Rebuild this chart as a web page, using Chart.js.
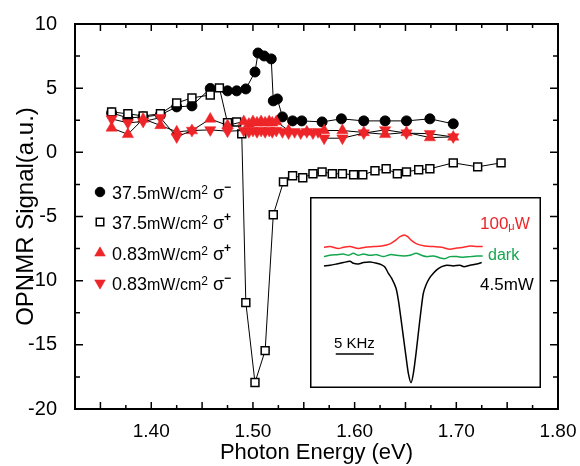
<!DOCTYPE html>
<html>
<head>
<meta charset="utf-8">
<script src="https://cdn.jsdelivr.net/npm/chart.js@4/dist/chart.umd.min.js"></script>
<style>
  html, body { margin: 0; padding: 0; background: #fff; }
  #wrap { position: relative; width: 580px; height: 466px; }
  #main { position: absolute; left: 0; top: 0; }
  #inset { position: absolute; left: 310px; top: 197px; }
</style>
</head>
<body>
<div id="wrap">
  <canvas id="main" width="580" height="466"></canvas>
  <canvas id="inset" width="231" height="191"></canvas>
</div>
<script>
// ---- data ----
// 37.5 mW/cm2 sigma-  (filled circles)
const circE = [1.361,1.377,1.392,1.409,1.425,1.440,1.458,1.475,1.484,1.493,1.502,1.505,1.511,1.518,1.520,1.524,1.529,1.539,1.548,1.568,1.587,1.609,1.630,1.651,1.674,1.697];
const circS = [3.07,2.68,2.76,2.92,3.54,3.62,4.98,4.79,4.79,4.94,6.26,7.74,7.51,7.28,4.01,4.16,2.76,2.45,2.45,2.37,2.61,2.45,2.45,2.45,2.61,2.22];
// 37.5 mW/cm2 sigma+  (open squares)
const sqE = [1.361,1.377,1.392,1.409,1.425,1.440,1.458,1.467,1.475,1.484,1.489,1.493,1.502,1.512,1.520,1.530,1.539,1.549,1.559,1.568,1.578,1.588,1.599,1.608,1.620,1.631,1.642,1.651,1.663,1.674,1.697,1.721,1.744];
const sqS = [3.15,3.00,2.84,3.00,3.85,4.24,4.47,5.02,2.30,2.37,1.44,-11.71,-17.94,-15.45,-4.86,-2.30,-1.83,-1.98,-1.67,-1.52,-1.67,-1.67,-1.75,-1.75,-1.44,-1.28,-1.67,-1.52,-1.36,-1.28,-0.82,-1.13,-0.82];
// 0.83 mW/cm2 sigma+  (red up triangles)
const upE = [1.361,1.377,1.392,1.409,1.425,1.440,1.458,1.475,1.491,1.496,1.500,1.504,1.508,1.512,1.516,1.519,1.523,1.535,1.553,1.570,1.588,1.609,1.630,1.651,1.674,1.697];
const upS = [1.9,1.4,2.6,2.1,1.6,1.7,2.6,2.1,2.4,2.2,2.4,2.3,2.4,2.3,2.4,2.3,2.4,1.7,1.6,1.7,1.7,1.55,1.4,1.55,1.15,1.2];
// 0.83 mW/cm2 sigma-  (red down triangles)
const dnE = [1.361,1.377,1.392,1.409,1.425,1.440,1.458,1.475,1.491,1.496,1.500,1.504,1.508,1.512,1.516,1.519,1.523,1.529,1.535,1.541,1.547,1.553,1.559,1.564,1.570,1.588,1.609,1.630,1.651,1.674,1.697];
const dnS = [2.6,2.3,2.4,2.7,1.2,1.7,1.75,1.65,1.7,1.6,1.7,1.6,1.7,1.6,1.7,1.6,1.7,1.6,1.5,1.6,1.5,1.6,1.5,1.6,1.1,1.1,1.5,1.75,1.5,1.45,1.2];

// axis ticks
const xLabelTicks = [1.40,1.50,1.60,1.70,1.80];
const xMajorTicks = [1.35,1.40,1.45,1.50,1.55,1.60,1.65,1.70,1.75];
const xMinorTicks = [1.375,1.425,1.475,1.525,1.575,1.625,1.675,1.725,1.775];
const yLabelTicks = [-20,-15,-10,-5,0,5,10];
const yMinorTicks = [-17.5,-12.5,-7.5,-2.5,2.5,7.5];

// inset spectra (kHz offset, signal a.u.)
const redK = [-11.45,-10.66,-9.56,-8.90,-8.03,-6.93,-6.05,-4.96,-3.86,-2.76,-1.97,-1.45,-0.88,-0.44,0.09,0.75,1.84,2.94,4.04,5.13,6.01,6.89,7.76,8.64,9.43];
const redV = [1.160,1.166,1.149,1.160,1.166,1.149,1.160,1.166,1.171,1.189,1.223,1.251,1.266,1.251,1.217,1.189,1.171,1.166,1.160,1.143,1.154,1.160,1.171,1.166,1.166];
const greenK = [-11.45,-10.66,-9.78,-8.90,-8.25,-7.59,-6.93,-6.27,-5.39,-4.52,-3.64,-2.76,-1.89,-1.01,-0.13,0.66,1.40,2.06,2.94,3.82,4.47,5.13,6.01,6.89,7.76,8.64,9.43];
const greenV = [1.080,1.091,1.097,1.103,1.091,1.109,1.091,1.103,1.091,1.097,1.080,1.097,1.091,1.086,1.091,1.109,1.091,1.080,1.086,1.069,1.063,1.080,1.080,1.074,1.080,1.086,1.086];
const blackK = [-11.45,-10.66,-9.78,-8.90,-8.03,-7.59,-6.93,-6.27,-5.39,-4.52,-3.86,-3.42,-2.98,-2.54,-1.97,-1.67,-1.36,-1.01,-0.66,-0.35,0,0.31,0.66,1.01,1.32,1.62,1.97,2.41,2.94,3.46,4.04,4.69,5.57,6.45,6.97,7.76,8.64,9.30];
const blackV = [1.000,1.006,1.017,1.029,1.040,1.023,1.017,1.029,1.034,1.023,1.009,0.989,0.937,0.894,0.809,0.709,0.566,0.394,0.223,0.080,0,0.080,0.251,0.451,0.623,0.766,0.837,0.894,0.937,0.971,0.994,1.006,1.000,1.006,0.994,1.006,1.017,1.029];
const barK = [-9.9,-4.9];
const barV = [0.246,0.246];

const FONT = '"Liberation Sans", Arial, sans-serif';
const RED = '#ee2528';
const pts = (xs, ys) => xs.map((v, i) => ({x: v, y: ys[i]}));

const series = [
  { label: '37.5 sigma-', data: pts(circE, circS), pointStyle: 'circle', pointRadius: 5, pointBackgroundColor: '#000', pointBorderColor: '#000', pointBorderWidth: 1, order: 3 },
  { label: '37.5 sigma+', data: pts(sqE, sqS), pointStyle: 'rect', pointRadius: 5.6, pointBackgroundColor: '#fff', pointBorderColor: '#000', pointBorderWidth: 1.5, order: 2 },
  { label: '0.83 sigma+', data: pts(upE, upS), pointStyle: 'triangle', pointRadius: 6.5, pointBackgroundColor: RED, pointBorderColor: RED, pointBorderWidth: 0.5, order: 1 },
  { label: '0.83 sigma-', data: pts(dnE, dnS), pointStyle: 'triangle', pointRotation: 180, pointRadius: 6.5, pointBackgroundColor: RED, pointBorderColor: RED, pointBorderWidth: 0.5, order: 0 }
].map(d => Object.assign({ showLine: true, borderColor: '#000', borderWidth: 1, tension: 0 }, d));

// frame with inward ticks on all four sides
const frameTicks = {
  id: 'frameTicks',
  afterDatasetsDraw(chart) {
    const { ctx, chartArea: a, scales: { x, y } } = chart;
    ctx.save();
    ctx.strokeStyle = '#000';
    ctx.lineWidth = 1.5;
    ctx.beginPath();
    const vt = (v, len) => { const p = x.getPixelForValue(v); ctx.moveTo(p, a.bottom); ctx.lineTo(p, a.bottom - len); ctx.moveTo(p, a.top); ctx.lineTo(p, a.top + len); };
    const ht = (v, len) => { const p = y.getPixelForValue(v); ctx.moveTo(a.left, p); ctx.lineTo(a.left + len, p); ctx.moveTo(a.right, p); ctx.lineTo(a.right - len, p); };
    xMajorTicks.forEach(v => vt(v, 7));
    xMinorTicks.forEach(v => vt(v, 4));
    yLabelTicks.forEach(v => ht(v, 8));
    yMinorTicks.forEach(v => ht(v, 5));
    ctx.stroke();
    ctx.lineWidth = 2;
    ctx.strokeRect(a.left, a.top, a.right - a.left, a.bottom - a.top);
    ctx.restore();
  }
};

// legend with mixed font sizes (cm^2, sigma^+/-)
const legendRows = [
  { ds: 0, num: '37.5', sign: '\u2212', y: 192 },
  { ds: 1, num: '37.5', sign: '+', y: 222 },
  { ds: 2, num: '0.83', sign: '+', y: 253 },
  { ds: 3, num: '0.83', sign: '\u2212', y: 283 }
];
const customLegend = {
  id: 'customLegend',
  afterDraw(chart) {
    const ctx = chart.ctx;
    ctx.save();
    legendRows.forEach(r => {
      const d = chart.data.datasets[r.ds];
      ctx.fillStyle = d.pointBackgroundColor;
      ctx.strokeStyle = d.pointBorderColor;
      ctx.lineWidth = d.pointBorderWidth;
      Chart.helpers.drawPoint(ctx, {
        pointStyle: d.pointStyle, radius: d.pointRadius * 0.95,
        rotation: d.pointRotation || 0, borderWidth: d.pointBorderWidth
      }, 100, r.y);
      ctx.fillStyle = '#000';
      ctx.textBaseline = 'alphabetic';
      const base = r.y + 6.5;
      let x = 112;
      const put = (txt, size, dy, weight) => {
        ctx.font = (weight || '') + ' ' + size + 'px ' + FONT;
        ctx.fillText(txt, x, base + dy);
        x += ctx.measureText(txt).width;
      };
      put(r.num, 18, 0);
      put('mW/cm', 16, 0);
      put('2', 12, -5);
      x += 5;
      put('\u03c3', 18, 0);
      put(r.sign, 12, -8, 'bold');
    });
    ctx.restore();
  }
};

new Chart(document.getElementById('main'), {
  type: 'scatter',
  data: { datasets: series },
  options: {
    responsive: false,
    animation: false,
    layout: { padding: { top: 24, right: 22, left: 0, bottom: 0 } },
    plugins: { legend: { display: false }, tooltip: { enabled: false } },
    scales: {
      x: {
        type: 'linear', min: 1.325, max: 1.80,
        afterBuildTicks: s => { s.ticks = xLabelTicks.map(v => ({ value: v })); },
        afterFit: s => { s.height = 57; },
        grid: { display: false }, border: { display: false },
        ticks: { color: '#000', font: { family: FONT, size: 19 }, padding: 3, maxRotation: 0,
                 callback: v => v.toFixed(2) },
        title: { display: true, text: 'Photon Energy (eV)', color: '#000',
                 font: { family: FONT, size: 22 }, padding: { top: 0, bottom: 0 } }
      },
      y: {
        type: 'linear', min: -20, max: 10,
        afterBuildTicks: s => { s.ticks = yLabelTicks.map(v => ({ value: v })); },
        afterFit: s => { s.width = 75; },
        grid: { display: false }, border: { display: false },
        ticks: { color: '#000', font: { family: FONT, size: 20 }, padding: 10 },
        title: { display: true, text: 'OPNMR Signal(a.u.)', color: '#000',
                 font: { family: FONT, size: 24 }, padding: { top: 12, bottom: 0 } }
      }
    }
  },
  plugins: [frameTicks, customLegend]
});

// ---- inset ----
const insetDeco = {
  id: 'insetDeco',
  beforeDraw(chart) {
    const ctx = chart.ctx;
    ctx.save();
    ctx.fillStyle = '#fff';
    ctx.fillRect(0, 0, chart.width, chart.height);
    ctx.restore();
  },
  afterDraw(chart) {
    const ctx = chart.ctx;
    ctx.save();
    ctx.strokeStyle = '#000';
    ctx.lineWidth = 1.5;
    ctx.strokeRect(0.75, 0.75, chart.width - 1.5, chart.height - 1.5);
    ctx.textBaseline = 'middle';
    let x = 170;
    ctx.fillStyle = RED;
    ctx.font = '17px ' + FONT; ctx.fillText('100', x, 27); x += ctx.measureText('100').width;
    ctx.font = '11px ' + FONT; ctx.fillText('\u03bc', x, 30); x += ctx.measureText('\u03bc').width;
    ctx.font = '16px ' + FONT; ctx.fillText('W', x, 28);
    ctx.fillStyle = '#14a64f';
    ctx.font = '16px ' + FONT; ctx.fillText('dark', 178, 59);
    ctx.fillStyle = '#000';
    ctx.font = '17px ' + FONT; ctx.fillText('4.5mW', 170, 88);
    ctx.font = '15px ' + FONT; ctx.fillText('5 KHz', 24, 147);
    ctx.restore();
  }
};

new Chart(document.getElementById('inset'), {
  type: 'scatter',
  data: {
    datasets: [
      { data: pts(redK, redV), borderColor: '#ff2a2a', borderWidth: 1.5 },
      { data: pts(greenK, greenV), borderColor: '#14a64f', borderWidth: 1.5 },
      { data: pts(blackK, blackV), borderColor: '#000', borderWidth: 1.5 },
      { data: pts(barK, barV), borderColor: '#000', borderWidth: 1.5 }
    ].map(d => Object.assign({ showLine: true, pointRadius: 0, tension: 0.25 }, d))
  },
  options: {
    responsive: false,
    animation: false,
    layout: { padding: 0 },
    plugins: { legend: { display: false }, tooltip: { enabled: false } },
    scales: {
      x: { type: 'linear', display: false, min: -13.29, max: 17.1 },
      y: { type: 'linear', display: false, min: -0.046, max: 1.591 }
    }
  },
  plugins: [insetDeco]
});
</script>
</body>
</html>
